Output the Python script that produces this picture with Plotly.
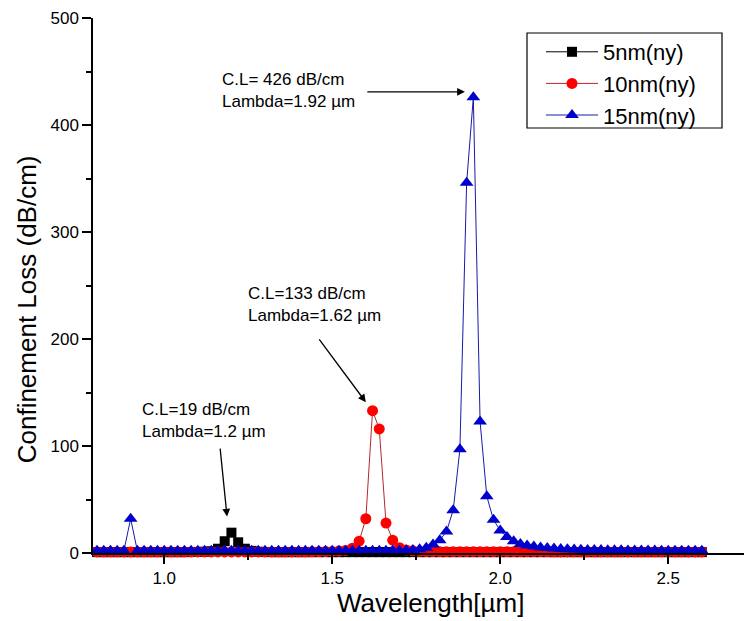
import plotly.graph_objects as go

# Wavelength grid (µm), 0.80 .. 2.60 in 0.02 steps
wavelength = [
    0.80, 0.82, 0.84, 0.86, 0.88, 0.90, 0.92, 0.94, 0.96, 0.98,
    1.00, 1.02, 1.04, 1.06, 1.08, 1.10, 1.12, 1.14, 1.16, 1.18,
    1.20, 1.22, 1.24, 1.26, 1.28, 1.30, 1.32, 1.34, 1.36, 1.38,
    1.40, 1.42, 1.44, 1.46, 1.48, 1.50, 1.52, 1.54, 1.56, 1.58,
    1.60, 1.62, 1.64, 1.66, 1.68, 1.70, 1.72, 1.74, 1.76, 1.78,
    1.80, 1.82, 1.84, 1.86, 1.88, 1.90, 1.92, 1.94, 1.96, 1.98,
    2.00, 2.02, 2.04, 2.06, 2.08, 2.10, 2.12, 2.14, 2.16, 2.18,
    2.20, 2.22, 2.24, 2.26, 2.28, 2.30, 2.32, 2.34, 2.36, 2.38,
    2.40, 2.42, 2.44, 2.46, 2.48, 2.50, 2.52, 2.54, 2.56, 2.58,
    2.60,
]

# Confinement loss (dB/cm) for each core thickness
loss_5nm = [
    0.8, 0.8, 0.8, 0.8, 0.8, 0.8, 0.8, 0.8, 0.8, 0.8,
    0.8, 0.8, 0.8, 0.8, 0.9, 1.0, 1.2, 1.6, 4.0, 11.0,
    19.0, 10.0, 4.0, 2.0, 1.2, 0.9, 0.8, 0.8, 0.8, 0.8,
    0.8, 0.8, 0.8, 0.8, 0.8, 0.8, 0.8, 0.8, 0.8, 0.8,
    0.8, 0.8, 0.8, 0.8, 0.8, 0.8, 0.8, 0.8, 0.8, 0.8,
    0.8, 0.8, 0.8, 0.8, 0.8, 0.8, 0.8, 0.8, 0.8, 0.8,
    0.8, 0.8, 0.8, 0.8, 0.8, 0.8, 0.8, 0.8, 0.8, 0.8,
    0.8, 0.8, 0.8, 0.8, 0.8, 0.8, 0.8, 0.8, 0.8, 0.8,
    0.8, 0.8, 0.8, 0.8, 0.8, 0.8, 0.8, 0.8, 0.8, 0.8,
    0.8,
]
loss_10nm = [
    1.0, 1.0, 1.0, 1.0, 1.0, 1.0, 1.0, 1.0, 1.0, 1.0,
    1.0, 1.0, 1.0, 1.0, 1.0, 1.0, 1.0, 1.0, 1.0, 1.0,
    1.0, 1.0, 1.0, 1.0, 1.0, 1.0, 1.0, 1.0, 1.0, 1.0,
    1.0, 1.0, 1.1, 1.2, 1.3, 1.5, 1.8, 2.4, 4.5, 11.0,
    32.0, 133.0, 116.0, 28.0, 12.0, 5.0, 2.8, 2.0, 1.6, 1.4,
    1.3, 1.2, 1.2, 1.2, 1.2, 1.2, 1.2, 1.2, 1.2, 1.2,
    1.2, 1.2, 1.2, 1.2, 1.2, 1.2, 1.2, 1.1, 1.0, 1.0,
    1.0, 1.0, 1.0, 1.0, 1.0, 1.0, 1.0, 1.0, 1.0, 1.0,
    1.0, 1.0, 1.0, 1.0, 1.0, 1.0, 1.0, 1.0, 1.0, 1.0,
    1.0,
]
loss_15nm = [
    2.0, 2.0, 2.0, 2.0, 2.1, 32.0, 2.1, 2.0, 2.0, 2.0,
    2.0, 2.0, 2.0, 2.0, 2.0, 2.0, 2.0, 2.0, 2.0, 2.0,
    2.0, 2.0, 2.0, 2.0, 2.0, 2.0, 2.0, 2.0, 2.0, 2.0,
    2.0, 2.0, 2.0, 2.0, 2.0, 2.0, 2.0, 2.0, 2.0, 2.0,
    2.0, 2.0, 2.1, 2.2, 2.3, 2.4, 2.6, 2.9, 3.5, 5.0,
    8.0, 12.0, 20.0, 40.0, 97.0, 346.0, 426.0, 123.0, 53.0, 31.0,
    21.0, 15.0, 11.0, 8.5, 7.0, 6.0, 5.2, 4.6, 4.1, 3.7,
    3.4, 3.2, 3.0, 2.9, 2.8, 2.7, 2.6, 2.5, 2.5, 2.4,
    2.4, 2.3, 2.3, 2.3, 2.2, 2.2, 2.2, 2.2, 2.2, 2.2,
    2.2,
]

series_names = ["5nm(ny)", "10nm(ny)", "15nm(ny)"]

FONT = "Arial, Liberation Sans, sans-serif"

fig = go.Figure()

fig.add_trace(go.Scatter(
    x=wavelength, y=loss_5nm, name=series_names[0], mode="lines+markers",
    line=dict(color="#000000", width=1),
    marker=dict(symbol="square", size=10, color="#000000"),
    cliponaxis=False,
))
fig.add_trace(go.Scatter(
    x=wavelength, y=loss_10nm, name=series_names[1], mode="lines+markers",
    line=dict(color="#b8262a", width=1),
    marker=dict(symbol="circle", size=11, color="#ff0000"),
    cliponaxis=False,
))
fig.add_trace(go.Scatter(
    x=wavelength, y=loss_15nm, name=series_names[2], mode="lines+markers",
    line=dict(color="#1a1aa8", width=1),
    marker=dict(symbol="triangle-up", size=12, color="#0000cc"),
    cliponaxis=False,
))


def peak(values):
    i = max(range(len(values)), key=lambda k: values[k])
    return wavelength[i], values[i]


annotations = []

# Peak labels with arrows pointing at each series maximum
px15, py15 = peak(loss_15nm)
px10, py10 = peak(loss_10nm)
px5, py5 = peak(loss_5nm)

label_font = dict(family=FONT, size=17, color="#000000")

annotations.append(dict(
    x=1.166, y=432, xref="x", yref="y", xanchor="left", yanchor="middle",
    text=f"C.L= {py15:.0f} dB/cm<br>Lambda={px15:.2f} µm", showarrow=False,
    align="left", font=label_font,
))
annotations.append(dict(
    x=px15 - 0.025, y=py15 + 5, xref="x", yref="y",
    ax=1.600, ay=py15 + 5, axref="x", ayref="y",
    showarrow=True, arrowhead=2, arrowsize=1.2, arrowwidth=1.3, arrowcolor="#000000", text="",
))

annotations.append(dict(
    x=1.243, y=232, xref="x", yref="y", xanchor="left", yanchor="middle",
    text=f"C.L={py10:.0f} dB/cm<br>Lambda={px10:.2f} µm", showarrow=False,
    align="left", font=label_font,
))
annotations.append(dict(
    x=px10 - 0.02, y=py10 + 8, xref="x", yref="y",
    ax=1.458, ay=201, axref="x", ayref="y",
    showarrow=True, arrowhead=2, arrowsize=1.2, arrowwidth=1.3, arrowcolor="#000000", text="",
))

annotations.append(dict(
    x=0.928, y=124, xref="x", yref="y", xanchor="left", yanchor="middle",
    text=f"C.L={py5:.0f} dB/cm<br>Lambda={px5:g} µm", showarrow=False,
    align="left", font=label_font,
))
annotations.append(dict(
    x=px5 - 0.013, y=py5 + 15, xref="x", yref="y",
    ax=1.166, ay=99, axref="x", ayref="y",
    showarrow=True, arrowhead=2, arrowsize=1.2, arrowwidth=1.3, arrowcolor="#000000", text="",
))

# Axis titles
annotations.append(dict(
    x=-0.101, y=0.456, xref="paper", yref="paper", xanchor="center", yanchor="middle",
    text="Confinement Loss (dB/cm)", textangle=-90, showarrow=False,
    font=dict(family=FONT, size=26, color="#000000"),
))
annotations.append(dict(
    x=0.518, y=-0.0935, xref="paper", yref="paper", xanchor="center", yanchor="middle",
    text="Wavelength[µm]", showarrow=False,
    font=dict(family=FONT, size=26, color="#000000"),
))

# Legend frame, drawn as a shape so the entries can sit with wider left padding
fig.add_shape(
    type="rect", xref="paper", yref="paper",
    x0=(527 - 93) / 651, x1=(722 - 93) / 651,
    y0=(553 - 128) / 535, y1=(553 - 33) / 535,
    line=dict(color="#000000", width=1.2), fillcolor="rgba(0,0,0,0)", layer="above",
)

fig.update_layout(
    width=744, height=621,
    margin=dict(l=93, r=0, t=18, b=68),
    paper_bgcolor="#ffffff", plot_bgcolor="#ffffff",
    font=dict(family=FONT, size=16, color="#000000"),
    showlegend=True,
    legend=dict(
        x=(541 - 93) / 651, y=(553 - 31) / 535, xanchor="left", yanchor="top",
        borderwidth=0, bgcolor="rgba(255,255,255,0)",
        font=dict(family=FONT, size=22, color="#000000"),
        itemwidth=52, tracegroupgap=0,
    ),
    annotations=annotations,
)

fig.update_xaxes(
    range=[0.788, 2.7255], tickvals=[1.0, 1.5, 2.0, 2.5], ticktext=["1.0", "1.5", "2.0", "2.5"],
    showgrid=False, zeroline=False, showline=True, linecolor="#000000", linewidth=1.5,
    ticks="outside", ticklen=9, tickwidth=1.5, tickcolor="#000000",
    minor=dict(tickvals=[0.75, 1.25, 1.75, 2.25], ticks="outside", ticklen=5, tickwidth=1.5, tickcolor="#000000"),
    tickfont=dict(family=FONT, size=17),
)
fig.update_yaxes(
    range=[0, 500], tickvals=[0, 100, 200, 300, 400, 500],
    showgrid=False, zeroline=False, showline=True, linecolor="#000000", linewidth=1.5,
    ticks="outside", ticklen=9, tickwidth=1.5, tickcolor="#000000",
    minor=dict(tickvals=[50, 150, 250, 350, 450], ticks="outside", ticklen=5, tickwidth=1.5, tickcolor="#000000"),
    tickfont=dict(family=FONT, size=17),
)

fig.write_html("out.html")
